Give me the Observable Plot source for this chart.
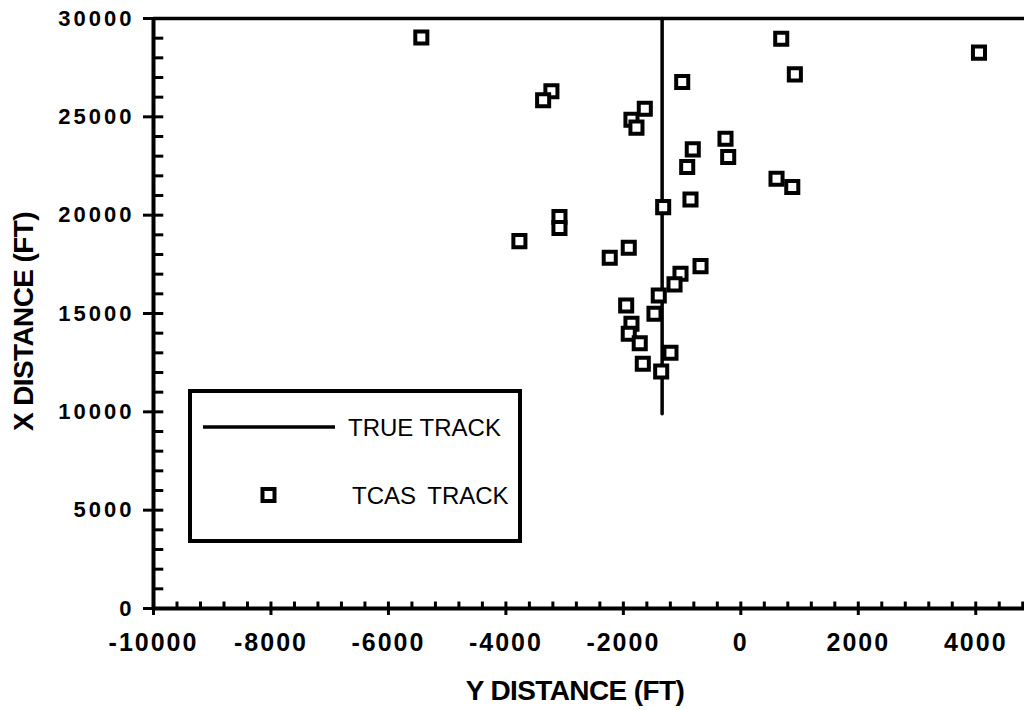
<!DOCTYPE html>
<html>
<head>
<meta charset="utf-8">
<script src="https://cdn.jsdelivr.net/npm/d3@7"></script>
<script src="https://cdn.jsdelivr.net/npm/@observablehq/plot@0.6"></script>
<style>
  html, body { margin: 0; padding: 0; background: #fff; overflow: hidden; }
  #wrap { position: relative; width: 1024px; height: 710px; font-family: "Liberation Sans", Arial, sans-serif; }
  #legend { position: absolute; left: 188px; top: 389px; width: 334px; height: 154px; box-sizing: border-box; border: 4px solid #000; background: #fff; }
  #legend svg { position: absolute; left: 0; top: 0; }
</style>
</head>
<body>
<div id="wrap"></div>
<script>
// TCAS track points: Y distance (ft) and X distance (ft)
const tcasY = [-5440, -3225, -3366, -998, -1635, -1862, -1777, -818, -913, -857,
               -1322, -3088, -3088, 688, 4055, 920, -261, -215, 608, 876,
               -3770, -1908, -2232, -686, -1027, -1129, -1397, -1952, -1470, -1862,
               -1908, -1721, -1198, -1669, -1356];
const tcasX = [29030, 26300, 25840, 26770, 25415, 24855, 24450, 23345, 22445, 20800,
               20410, 19910, 19350, 28975, 28265, 27160, 23890, 22955, 21855, 21430,
               18680, 18345, 17835, 17410, 17025, 16480, 15920, 15410, 14990, 14480,
               13970, 13490, 13005, 12445, 12055];
// True track (vertical line)
const trueTrackY = [-1340, -1340];
const trueTrackX = [9900, 30000];

const xMajorTicks = [-10000, -8000, -6000, -4000, -2000, 0, 2000, 4000];
const xMinorTicks = d3.range(-10000, 4801, 400);
const yMajorTicks = [0, 5000, 10000, 15000, 20000, 25000, 30000];
const yMinorTicks = d3.range(0, 30001, 1000);

const xLabel = "Y DISTANCE (FT)";
const yLabel = "X DISTANCE (FT)";
const legendItems = ["TRUE TRACK", "TCAS TRACK"];

const tcas = tcasY.map((y, i) => ({y, x: tcasX[i]}));
const track = trueTrackY.map((y, i) => ({y, x: trueTrackX[i]}));

const font = '"Liberation Sans", Arial, sans-serif';

const chart = Plot.plot({
  width: 1024,
  height: 710,
  marginLeft: 153,
  marginRight: 0,
  marginTop: 18,
  marginBottom: 102,
  style: {fontFamily: font, color: "#000", background: "#fff", overflow: "visible"},
  x: {domain: [-10000, 4830]},
  y: {domain: [0, 30000]},
  marks: [
    // frame pieces
    Plot.ruleY([30000], {stroke: "#000", strokeWidth: 3.5}),
    Plot.ruleX([-10000], {stroke: "#000", strokeWidth: 4}),
    Plot.ruleY([0], {stroke: "#000", strokeWidth: 4}),
    // minor ticks
    Plot.ruleX(xMinorTicks, {x: d => d, y1: 0, y2: 330, stroke: "#000", strokeWidth: 3}),
    Plot.ruleY(yMinorTicks, {y: d => d, x1: -10000, x2: -9825, stroke: "#000", strokeWidth: 3}),
    // major axes
    Plot.axisX({ticks: xMajorTicks, tickSize: 7, tickPadding: 18, strokeWidth: 3,
      fontSize: 25, fontWeight: "bold", label: null, tickFormat: d => String(d)}),
    Plot.axisY({ticks: yMajorTicks, tickSize: 10, tickPadding: 9, strokeWidth: 3,
      fontSize: 22, fontWeight: "bold", label: null, tickFormat: d => String(d)}),
    // axis titles
    Plot.text([xLabel], {text: d => d, frameAnchor: "bottom", textAnchor: "middle", lineAnchor: "middle",
      dx: -14, dy: 83, fontSize: 28, fontWeight: "bold"}),
    Plot.text([yLabel], {text: d => d, frameAnchor: "left", textAnchor: "middle", lineAnchor: "middle",
      dx: -129, dy: 8, rotate: -90, fontSize: 28, fontWeight: "bold"}),
    // true track
    Plot.line(track, {x: "y", y: "x", stroke: "#000", strokeWidth: 3.5}),
    // TCAS track
    Plot.dot(tcas, {x: "y", y: "x", symbol: "square", r: 6.8, fill: "#fff", stroke: "#000", strokeWidth: 4})
  ]
});

chart.querySelectorAll('[aria-label="y-axis tick label"] text').forEach(t => t.setAttribute("letter-spacing", "3"));
chart.querySelectorAll('[aria-label="x-axis tick label"] text').forEach(t => t.setAttribute("letter-spacing", "2"));
chart.querySelectorAll('[aria-label="text"] text').forEach(t => t.setAttribute("letter-spacing", "-0.6"));

const wrap = document.getElementById("wrap");
wrap.appendChild(chart);

// Legend overlay
const legend = document.createElement("div");
legend.id = "legend";
wrap.appendChild(legend);
const ls = d3.select(legend).append("svg").attr("width", 326).attr("height", 146);
ls.append("line").attr("x1", 11).attr("x2", 143).attr("y1", 34).attr("y2", 34)
  .attr("stroke", "#000").attr("stroke-width", 3.5);
ls.append("text").attr("x", 156).attr("y", 34).attr("dominant-baseline", "central")
  .attr("font-family", font).attr("font-size", 24).text(legendItems[0]);
ls.append("rect").attr("x", 70.5).attr("y", 96).attr("width", 12).attr("height", 12)
  .attr("fill", "#fff").attr("stroke", "#000").attr("stroke-width", 4);
ls.append("text").attr("x", 160).attr("y", 102).attr("dominant-baseline", "central")
  .attr("font-family", font).attr("font-size", 24).attr("word-spacing", "5").text(legendItems[1]);
</script>
</body>
</html>
